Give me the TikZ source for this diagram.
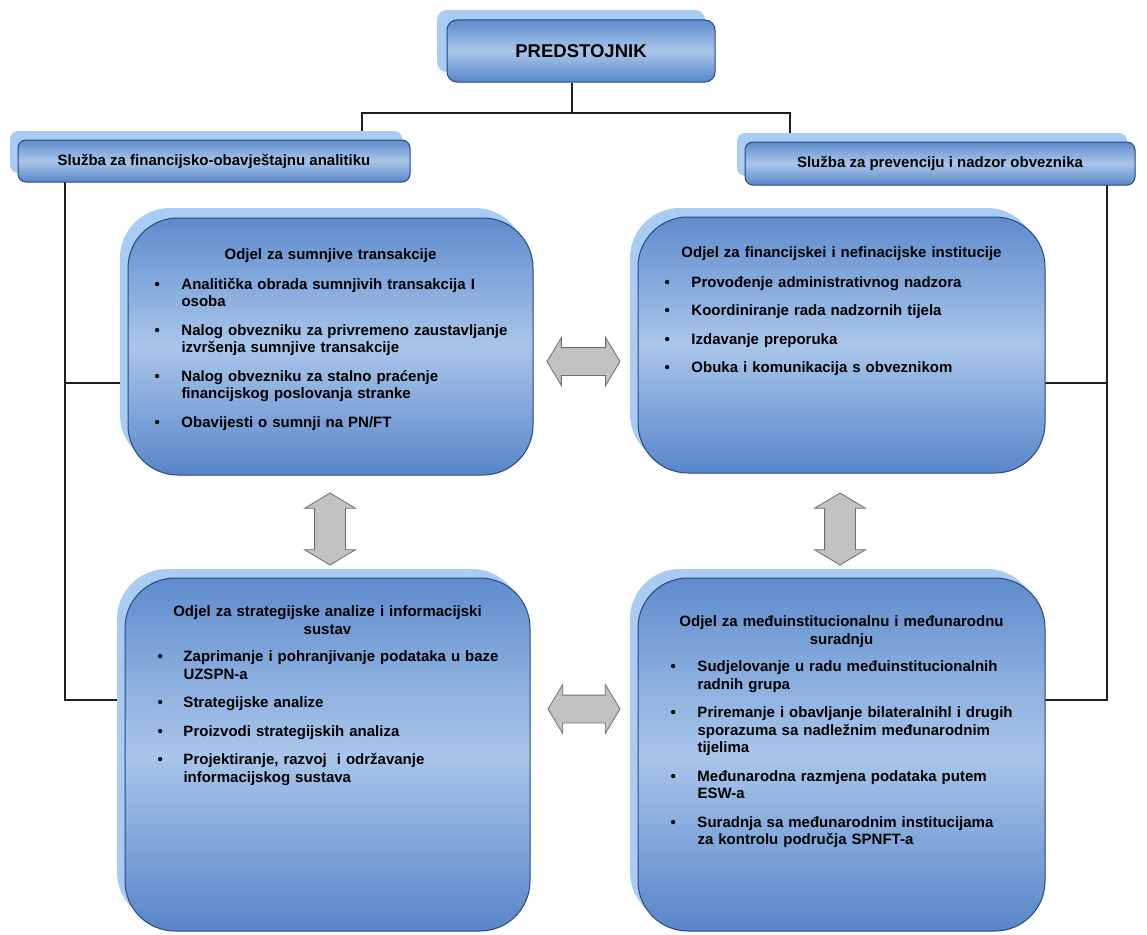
\documentclass[tikz,border=0pt]{standalone}
\usepackage{fontspec}
\setmainfont{Liberation Sans}
\usetikzlibrary{positioning,shapes.arrows}

\definecolor{okvir}{HTML}{27477E}
\definecolor{plavagore}{HTML}{5F8CCD}
\definecolor{plavasredina}{HTML}{A9C6EA}
\definecolor{plavadolje}{HTML}{5886C9}
\definecolor{sjenaplava}{HTML}{A8CCF2}
\definecolor{strelicasiva}{HTML}{C2C2C2}
\definecolor{strelicarub}{HTML}{6E6E6E}
\definecolor{linija}{HTML}{1E1E1E}

\begin{document}
\begin{tikzpicture}[x=1pt,y=-1pt,
  kutija/.style={draw=okvir, line width=1pt, inner sep=0pt,
    top color=plavagore, bottom color=plavadolje, middle color=plavasredina},
  sjena/.style={fill=sjenaplava, draw=none, inner sep=0pt},
  veza/.style={draw=linija, line width=1.4pt},
  dvostrelica/.style={double arrow, draw=strelicarub, fill=strelicasiva, line width=0.8pt,
    inner xsep=0pt, double arrow tip angle=118},
  odjeltekst/.style={font=\fontsize{15}{17.5}\selectfont\bfseries, inner sep=0pt, align=left}]

\fill[white] (0,0) rectangle (1147,934);
\useasboundingbox (0,0) rectangle (1147,934);

% Connectors
\coordinate (hub) at (572,113);
\coordinate (dropL) at (362,131);
\coordinate (dropR) at (790,133);
\coordinate (spL) at (65,182);
\coordinate (spR) at (1107,185);
\coordinate (o1l) at (120,383);
\coordinate (o3l) at (118,700);
\coordinate (o2r) at (1045,383);
\coordinate (o4r) at (1045,700);

\draw[veza] (dropL) |- (hub) -| (dropR);
\draw[veza] (spL) |- (o3l);
\draw[veza] (o1l) -- (o1l -| spL);
\draw[veza] (spR) |- (o4r);
\draw[veza] (o2r) -- (o2r -| spR);

% PREDSTOJNIK
\node[sjena, rounded corners=10pt, minimum width=268pt, minimum height=62pt] at (571,41) {};
\node[kutija, rounded corners=10pt, minimum width=268pt, minimum height=62pt] (pred) at (581,51)
  {\fontsize{18.5}{20}\selectfont\bfseries PREDSTOJNIK};
\draw[veza] (pred.south -| hub) -- (hub);

% Sluzbe
\node[sjena, rounded corners=8pt, minimum width=392pt, minimum height=42pt] at (206,152) {};
\node[kutija, rounded corners=8pt, minimum width=392pt, minimum height=42pt] (slL) at (214,161)
  {\fontsize{15}{17}\selectfont\bfseries Služba za financijsko-obavještajnu analitiku};

\node[sjena, rounded corners=8pt, minimum width=390pt, minimum height=43pt] at (932,154.5) {};
\node[kutija, rounded corners=8pt, minimum width=390pt, minimum height=43pt] (slR) at (940,163.5)
  {\fontsize{15}{17}\selectfont\bfseries Služba za prevenciju i nadzor obveznika};

% Odjeli
\node[sjena, rounded corners=50pt, minimum width=405pt, minimum height=257pt] at (322.5,336.5) {};
\node[kutija, rounded corners=50pt, minimum width=405pt, minimum height=257pt] (o1) at (330.5,346.5) {};
\node[odjeltekst, text width=352pt, below=31pt of o1.north] (o1t) {%
  {\centering Odjel za sumnjive transakcije\par}\vspace{12pt}
  \noindent\begin{tabular}[t]{@{}p{27pt}@{}l@{}}
  \textbullet & Analitička obrada sumnjivih transakcija I\\
              & osoba\\[11pt]
  \textbullet & Nalog obvezniku za privremeno zaustavljanje\\
              & izvršenja sumnjive transakcije\\[11pt]
  \textbullet & Nalog obvezniku za stalno praćenje\\
              & financijskog poslovanja stranke\\[11pt]
  \textbullet & Obavijesti o sumnji na PN/FT
  \end{tabular}\par};

\node[sjena, rounded corners=50pt, minimum width=407pt, minimum height=256pt] at (833.5,336) {};
\node[kutija, rounded corners=50pt, minimum width=407pt, minimum height=256pt] (o2) at (841.5,345) {};
\node[odjeltekst, text width=354pt, below=30pt of o2.north] (o2t) {%
  {\centering Odjel za financijskei i nefinacijske institucije\par}\vspace{12pt}
  \noindent\begin{tabular}[t]{@{}p{27pt}@{}l@{}}
  \textbullet & Provođenje administrativnog nadzora\\[11pt]
  \textbullet & Koordiniranje rada nadzornih tijela\\[11pt]
  \textbullet & Izdavanje preporuka\\[11pt]
  \textbullet & Obuka i komunikacija s obveznikom
  \end{tabular}\par};

\node[sjena, rounded corners=50pt, minimum width=405pt, minimum height=353pt] at (319.5,745.5) {};
\node[kutija, rounded corners=50pt, minimum width=405pt, minimum height=353pt] (o3) at (327.5,754.5) {};
\node[odjeltekst, text width=340pt, below=28pt of o3.north] (o3t) {%
  {\centering Odjel za strategijske analize i informacijski\\ sustav\par}\vspace{10pt}
  \noindent\begin{tabular}[t]{@{}p{26pt}@{}l@{}}
  \textbullet & Zaprimanje i pohranjivanje podataka u baze\\
              & UZSPN-a\\[11pt]
  \textbullet & Strategijske analize\\[11pt]
  \textbullet & Proizvodi strategijskih analiza\\[11pt]
  \textbullet & Projektiranje, razvoj \ i održavanje\\
              & informacijskog sustava
  \end{tabular}\par};

\node[sjena, rounded corners=50pt, minimum width=407pt, minimum height=353pt] at (833.5,745.5) {};
\node[kutija, rounded corners=50pt, minimum width=407pt, minimum height=353pt] (o4) at (841.5,754.5) {};
\node[odjeltekst, text width=342pt, below=38pt of o4.north] (o4t) {%
  {\centering Odjel za međuinstitucionalnu i međunarodnu\\ suradnju\par}\vspace{10pt}
  \noindent\begin{tabular}[t]{@{}p{27pt}@{}l@{}}
  \textbullet & Sudjelovanje u radu međuinstitucionalnih\\
              & radnih grupa\\[11pt]
  \textbullet & Priremanje i obavljanje bilateralnihl i drugih\\
              & sporazuma sa nadležnim međunarodnim\\
              & tijelima\\[11pt]
  \textbullet & Međunarodna razmjena podataka putem\\
              & ESW-a\\[11pt]
  \textbullet & Suradnja sa međunarodnim institucijama\\
              & za kontrolu područja SPNFT-a
  \end{tabular}\par};

% Strelice
\node[dvostrelica, inner ysep=13.5pt, double arrow head extend=10pt, minimum height=73pt] (strGore) at (583.5,361.5) {};
\node[dvostrelica, inner ysep=13.5pt, double arrow head extend=10.5pt, minimum height=72pt] (strDolje) at (584,709) {};
\node[dvostrelica, inner ysep=15pt, double arrow head extend=10pt, minimum height=72pt, rotate=90] (strLijevo) at (330,529) {};
\node[dvostrelica, inner ysep=15pt, double arrow head extend=10pt, minimum height=72pt, rotate=90] (strDesno) at (840,529) {};
\end{tikzpicture}
\end{document}
